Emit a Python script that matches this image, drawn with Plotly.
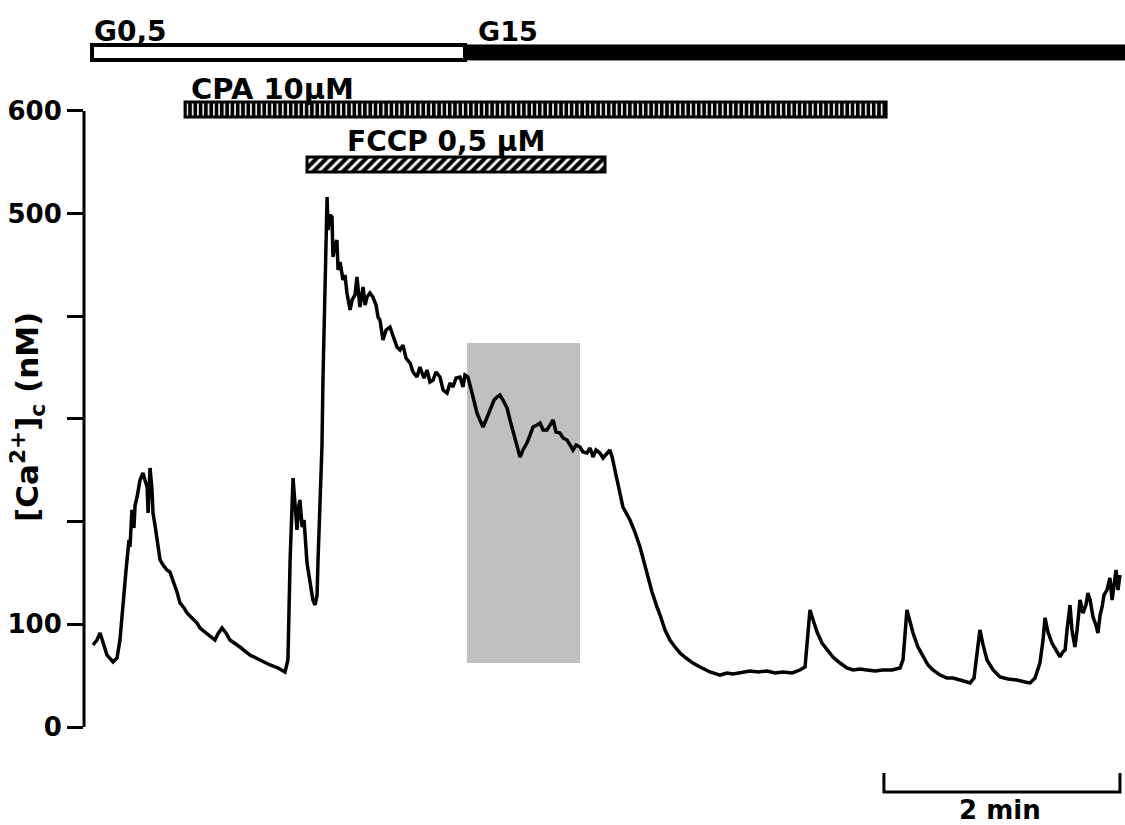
import plotly.graph_objects as go

# ---- trace data (time in s, [Ca2+]c in nM) ----
time_s = [0, 2.0, 3.6, 5.1, 7.1, 10.2, 12.2, 13.7, 14.7, 16.8, 18.3, 18.8, 19.8, 20.8, 21.4, 22.4, 23.9, 25.4,
          26.4, 27.5, 28.0, 29.0, 30.0, 30.5, 31.5, 32.5, 34.1, 35.6, 37.6, 39.1, 40.7, 42.7, 44.2, 46.3, 47.8,
          50.3, 52.9, 54.4, 56.9, 59.5, 62.0, 63.5, 65.6, 67.6, 69.6, 74.7, 79.8, 84.9, 90.0, 94.1, 97.6, 99.1,
          100.2, 101.7, 102.7, 103.7, 104.7, 105.2, 106.3, 107.3, 108.8, 110.3, 111.8, 112.9, 113.9, 114.4,
          115.4, 116.4, 116.9, 117.9, 119.0, 119.5, 120.5, 121.5, 122.0, 123.0, 124.0, 124.6, 125.6, 127.1,
          128.1, 129.1, 130.7, 131.7, 133.2, 134.2, 135.7, 137.3, 138.3, 139.3, 140.8, 142.3, 143.9, 144.9,
          145.9, 147.4, 149.0, 151.0, 152.5, 154.5, 156.1, 157.6, 159.1, 161.2, 162.7, 164.7, 166.2, 168.3,
          169.8, 171.3, 172.9, 174.4, 176.4, 178.0, 180.0, 181.5, 183.0, 184.6, 186.6, 188.1, 189.1, 190.6,
          192.7, 195.2, 196.7, 198.3, 199.8, 201.8, 203.9, 205.4, 206.9, 208.4, 210.5, 212.0, 214.0, 215.6,
          217.1, 218.6, 220.6, 222.2, 223.7, 225.7, 227.3, 228.8, 230.8, 232.3, 233.9, 235.4, 237.4, 239.0,
          241.0, 242.5, 244.0, 245.6, 247.6, 249.1, 251.1, 252.7, 254.2, 255.7, 257.7, 259.3, 261.3, 262.8,
          263.9, 266.4, 269.4, 273.0, 275.5, 278.1, 281.6, 284.2, 286.7, 288.3, 290.8, 293.3, 295.9, 298.4,
          301.5, 305.0, 308.6, 313.7, 318.8, 322.3, 325.4, 330.0, 334.0, 338.1, 342.7, 346.7, 350.8, 355.4,
          359.4, 362.0, 363.0, 364.5, 366.1, 368.1, 370.6, 373.2, 376.2, 379.8, 383.3, 386.4, 389.9, 393.5,
          397.6, 401.6, 406.2, 410.3, 411.8, 413.8, 415.3, 416.9, 419.4, 422.0, 424.5, 427.0, 430.6, 434.2,
          437.2, 440.8, 443.3, 445.9, 447.9, 449.5, 450.9, 452.5, 454.5, 457.6, 461.1, 465.2, 469.7, 473.8,
          476.4, 478.9, 481.4, 483.0, 484.0, 485.5, 487.5, 489.6, 491.6, 493.1, 494.2, 495.2, 496.7, 497.7,
          499.2, 500.3, 501.8, 503.3, 504.8, 505.8, 506.9, 508.4, 509.9, 510.9, 512.0, 513.0, 514.0, 515.5,
          517.0, 518.1, 519.1, 520.1, 521.1, 522.1]
ca_nM = [79.9, 84.7, 91.6, 81.8, 70.1, 63.3, 67.2, 84.7, 109, 152.9, 182.1, 175.3, 211.4, 193.8, 216.2, 224,
         240.6, 247.4, 240.6, 233.8, 208.4, 252.3, 230.8, 208.4, 196.7, 182.1, 162.7, 157.8, 152.9, 151, 143.2,
         131.5, 120.8, 115.9, 111, 106.2, 101.3, 96.4, 92.5, 87.7, 84.7, 90.6, 96.4, 91.6, 84.7, 77.9, 70.1,
         65.3, 60.4, 57.5, 53.6, 65.3, 162.7, 242.5, 221.1, 191.9, 216.2, 221.1, 194.8, 201.6, 159.7, 140.3,
         123.7, 118.8, 128.6, 162.7, 221.1, 272.7, 338, 435.4, 516.2, 484.1, 498.7, 496.7, 457.8, 469.5, 474.3,
         445.1, 452.9, 435.4, 440.2, 422.7, 406.2, 415.9, 420.8, 438.3, 409.1, 428.6, 411, 418.8, 422.7, 418.8,
         411, 399.3, 396.4, 376.9, 386.7, 389.6, 381.8, 370.1, 367.2, 372, 359.4, 354.5, 345.8, 340.9, 350.6,
         339.9, 347.7, 336, 338, 345.8, 340.9, 328.2, 325.3, 335.1, 331.2, 339.9, 340.9, 331.2, 342.8, 340.9,
         325.3, 305.8, 299, 292.2, 299, 308.8, 318.5, 321.4, 323.4, 318.5, 310.7, 299, 284.4, 272.7, 263,
         269.8, 276.6, 284.4, 292.2, 294.1, 296.1, 289.3, 289.3, 294.1, 299, 287.3, 286.4, 281.5, 279.5,
         274.7, 269.8, 274.7, 272.7, 267.9, 266.9, 271.7, 263, 269.8, 266.9, 262, 266.9, 269.8, 263, 240.6,
         214.3, 201.6, 189.9, 175.3, 150, 131.5, 116.9, 109.1, 94.5, 84.7, 77.9, 72.1, 67.2, 62.3, 58.4, 53.6,
         50.6, 52.6, 51.6, 53.6, 54.5, 53.6, 54.5, 52.6, 53.6, 52.6, 55.5, 58.4, 84.7, 114, 104.2, 92.5, 81.8,
         75, 68.2, 62.3, 57.5, 55.5, 56.5, 55.5, 54.5, 55.5, 55.5, 57.5, 65.3, 114, 102.3, 91.6, 77.9, 68.2,
         60.4, 55.5, 50.6, 47.7, 47.7, 45.8, 44.8, 42.9, 47.7, 75, 94.5, 79.9, 65.3, 55.5, 48.7, 46.8, 45.8,
         43.8, 42.9, 47.7, 62.3, 84.7, 106.2, 92.5, 81.8, 75, 68.2, 73.1, 75, 94.5, 118.8, 94.5, 77.9, 94.5,
         123.7, 111, 118.8, 130.5, 123.7, 107.1, 99.3, 91.6, 109.1, 116.9, 128.6, 133.4, 145.1, 123.7, 138.3,
         152.9, 133.4, 148]

# ---- axis ticks ----
y_labeled_ticks = [0, 100, 500, 600]
y_unlabeled_ticks = [200, 300, 400]

# ---- treatment bars (start s, end s) ----
g05_period = [-0.5, 189.1]
g15_period = [189.1, 526.0]
cpa_period = [46.8, 403.2]
fccp_period = [108.8, 260.3]
highlight_period = [190.1, 247.6]
highlight_range = [62.3, 374.0]
scale_bar_s = [402.1, 522.1]

FONT = "DejaVu Sans"

fig = go.Figure()

# Gray highlighted window
fig.add_shape(type="rect", xref="x", yref="y", x0=highlight_period[0], x1=highlight_period[1],
              y0=highlight_range[0], y1=highlight_range[1], fillcolor="#c0c0c0",
              line=dict(width=0), layer="below")

# Calcium trace
fig.add_trace(go.Scatter(x=time_s, y=ca_nM, mode="lines", line=dict(color="black", width=3.5),
                         hoverinfo="skip", showlegend=False))

bar_w = 14.6
# Glucose bars
fig.add_trace(go.Bar(orientation="h", y=[657.0], base=[g05_period[0]], x=[g05_period[1] - g05_period[0]],
                     width=bar_w, marker=dict(color="white", line=dict(color="black", width=4)),
                     hoverinfo="skip", showlegend=False))
fig.add_trace(go.Bar(orientation="h", y=[657.0], base=[g15_period[0]], x=[g15_period[1] - g15_period[0]],
                     width=bar_w, marker=dict(color="black", line=dict(color="black", width=1)),
                     hoverinfo="skip", showlegend=False))
# CPA bar
fig.add_trace(go.Bar(orientation="h", y=[601.4], base=[cpa_period[0]], x=[cpa_period[1] - cpa_period[0]],
                     width=bar_w,
                     marker=dict(color="black", line=dict(color="black", width=3),
                                 pattern=dict(shape="|", bgcolor="black", fgcolor="white",
                                              size=5.3, solidity=0.3, fillmode="replace")),
                     hoverinfo="skip", showlegend=False))
# FCCP bar
fig.add_trace(go.Bar(orientation="h", y=[547.9], base=[fccp_period[0]], x=[fccp_period[1] - fccp_period[0]],
                     width=bar_w,
                     marker=dict(color="black", line=dict(color="black", width=3),
                                 pattern=dict(shape="/", bgcolor="black", fgcolor="white",
                                              size=7, solidity=0.4, fillmode="replace")),
                     hoverinfo="skip", showlegend=False))

# Scale bar (2 min)
fig.add_trace(go.Scatter(x=[scale_bar_s[0], scale_bar_s[0], scale_bar_s[1], scale_bar_s[1]],
                         y=[-44.8, -63.3, -63.3, -44.8], mode="lines",
                         line=dict(color="black", width=3), hoverinfo="skip", showlegend=False,
                         cliponaxis=False))

# Y axis line
fig.add_shape(type="line", xref="paper", yref="y", x0=0, x1=0, y0=0, y1=600,
              line=dict(color="black", width=3))

def label(text, x, y, xref="x", angle=0, size=27):
    fig.add_annotation(text=text, x=x, y=y, xref=xref, yref="y", showarrow=False,
                       xanchor="center", yanchor="middle", textangle=angle,
                       font=dict(family=FONT, size=size, color="black", weight="bold"))

label("G0,5", 19.3, 677.9, size=28)
label("G15", 211.0, 677.9)
label("CPA 10µM", 91.0, 621.0, size=29)
label("FCCP 0,5 µM", 179.5, 570.0, size=28)
label("2 min", 461.1, -80.8, size=26)
label("[Ca<sup>2+</sup>]<sub>c</sub> (nM)", -0.0538, 302.0, xref="paper", angle=-90, size=31)

fig.update_layout(
    width=1125, height=825,
    margin=dict(l=84, r=0, t=0, b=0),
    paper_bgcolor="white", plot_bgcolor="white",
    barmode="overlay", showlegend=False, hovermode=False,
    xaxis=dict(range=[-4.58, 524.66], visible=False, fixedrange=True),
    yaxis=dict(range=[-95.45, 708.1], showgrid=False, zeroline=False, showline=False,
               tickmode="array", tickvals=y_labeled_ticks,
               ticks="outside", ticklen=16, tickwidth=3, tickcolor="black",
               tickfont=dict(family=FONT, size=26, color="black", weight="bold"),
               minor=dict(tickmode="array", tickvals=y_unlabeled_ticks, ticks="outside",
                          ticklen=16, tickwidth=3, tickcolor="black", showgrid=False),
               fixedrange=True),
)

fig.write_html("out.html")
